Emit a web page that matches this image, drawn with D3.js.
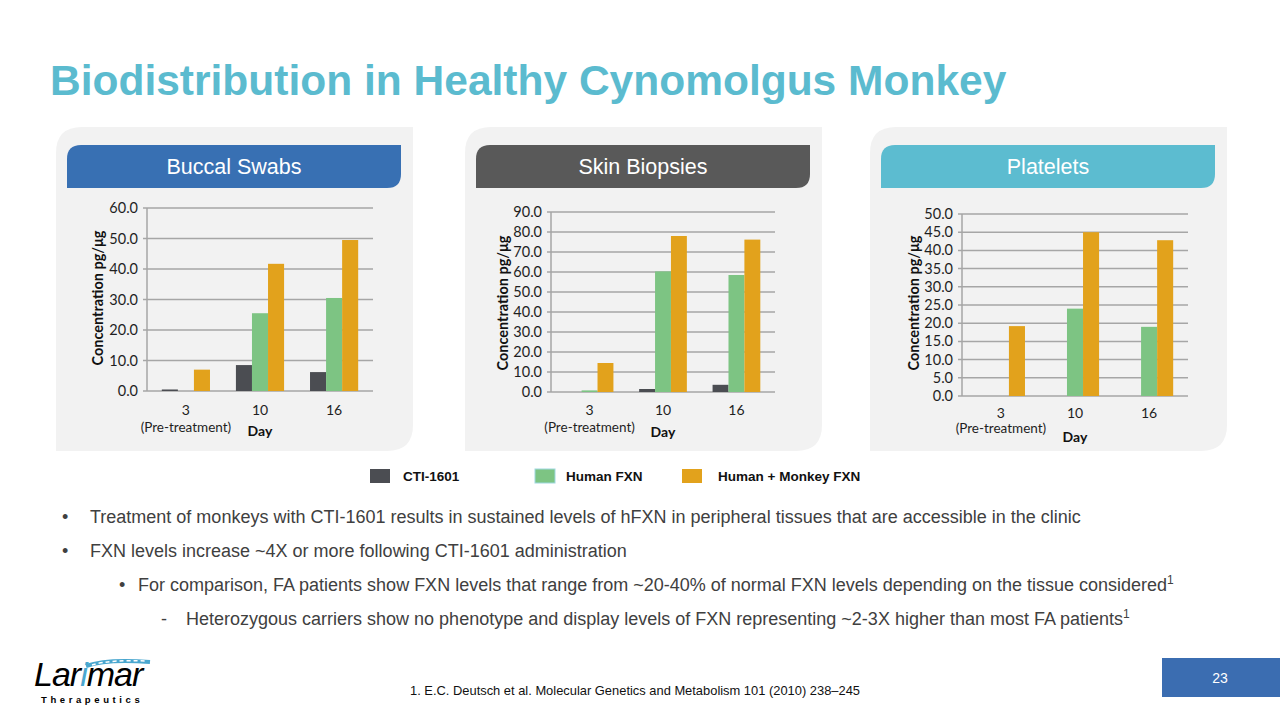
<!DOCTYPE html>
<html>
<head>
<meta charset="utf-8">
<script src="https://cdn.jsdelivr.net/npm/d3@7"></script>
<style>
  body { margin: 0; background: #fff; }
  svg { display: block; }
</style>
</head>
<body>
<svg id="slide" width="1280" height="720"></svg>
<script>
let svg = d3.select('#slide');

// data
let days = ['3', '10', '16'];
let seriesNames = ['CTI-1601', 'Human FXN', 'Human + Monkey FXN'];
let seriesColors = ['#4b4d52', '#7dc483', '#e2a21c'];

let buccalCti = [0.5, 8.5, 6.2];
let buccalHuman = [0, 25.5, 30.5];
let buccalTotal = [7.0, 41.7, 49.5];
let buccalTicks = [0, 10, 20, 30, 40, 50, 60];

let skinCti = [0, 1.5, 3.6];
let skinHuman = [0.8, 60.3, 58.5];
let skinTotal = [14.5, 78.0, 76.2];
let skinTicks = [0, 10, 20, 30, 40, 50, 60, 70, 80, 90];

let plateletCti = [0, 0, 0];
let plateletHuman = [0, 24.0, 19.0];
let plateletTotal = [19.2, 45.0, 42.8];
let plateletTicks = [0, 5, 10, 15, 20, 25, 30, 35, 40, 45, 50];

let bullets = [
  {level: 0, text: 'Treatment of monkeys with CTI-1601 results in sustained levels of hFXN in peripheral tissues that are accessible in the clinic', sup: ''},
  {level: 0, text: 'FXN levels increase ~4X or more following CTI-1601 administration', sup: ''},
  {level: 1, text: 'For comparison, FA patients show FXN levels that range from ~20-40% of normal FXN levels depending on the tissue considered', sup: '1'},
  {level: 2, text: 'Heterozygous carriers show no phenotype and display levels of FXN representing ~2-3X higher than most FA patients', sup: '1'}
];

let panels = [
  {title: 'Buccal Swabs', color: '#3870b3', x: 56, plot: [147, 373, 208, 391], yMax: 60, ticks: buccalTicks,
   values: [buccalCti, buccalHuman, buccalTotal], labelX: 98, labelY: 298, catY: 415, preY: 432, dayY: 436},
  {title: 'Skin Biopsies', color: '#595959', x: 465, plot: [551, 775, 212, 392], yMax: 90, ticks: skinTicks,
   values: [skinCti, skinHuman, skinTotal], labelX: 503, labelY: 303, catY: 415, preY: 432, dayY: 437},
  {title: 'Platelets', color: '#5cbcd0', x: 870, plot: [962, 1188, 214, 396], yMax: 50, ticks: plateletTicks,
   values: [plateletCti, plateletHuman, plateletTotal], labelX: 914, labelY: 303, catY: 418, preY: 433, dayY: 442}
];

// title
svg.append('text')
   .attr('x', 50).attr('y', 95)
   .style('font-family', 'Liberation Sans, Arial, sans-serif')
   .style('font-weight', 'bold')
   .style('font-size', '42.5px')
   .style('fill', '#5bbbcf')
   .text('Biodistribution in Healthy Cynomolgus Monkey');

// shape with rounded top-left and bottom-right corners
function leafPath(x, y, w, h, r) {
  return `M${x},${y + r} Q${x},${y} ${x + r},${y} L${x + w},${y} L${x + w},${y + h - r}` +
         ` Q${x + w},${y + h} ${x + w - r},${y + h} L${x},${y + h} Z`;
}

panels.forEach(p => {
  let g = svg.append('g');

  g.append('path')
   .attr('d', leafPath(p.x, 127, 357, 324, 26))
   .style('fill', '#f2f2f2');

  g.append('path')
   .attr('d', leafPath(p.x + 11, 145, 334, 43, 14))
   .style('fill', p.color);

  g.append('text')
   .attr('x', p.x + 11 + 167).attr('y', 174)
   .attr('text-anchor', 'middle')
   .style('font-family', 'Liberation Sans, Arial, sans-serif')
   .style('font-size', '21.5px')
   .style('fill', '#fff')
   .text(p.title);

  let [left, right, top, bottom] = p.plot;

  let x = d3.scaleBand().domain(days).range([left, right])
            .paddingInner(0.35).paddingOuter(0.2);
  let xs = d3.scaleBand().domain(d3.range(seriesNames.length)).range([0, x.bandwidth()]);
  let y = d3.scaleLinear().domain([0, p.yMax]).range([bottom, top]);

  // gridlines
  g.selectAll('.grid')
   .data(p.ticks)
   .join('line')
   .attr('x1', left - 4).attr('x2', right)
   .attr('y1', d => y(d)).attr('y2', d => y(d))
   .style('stroke', '#a6a6a6')
   .style('stroke-width', 1.5);

  g.append('line')
   .attr('x1', left).attr('x2', left)
   .attr('y1', top).attr('y2', bottom)
   .style('stroke', '#a6a6a6')
   .style('stroke-width', 1.5);

  g.selectAll('.tick-label')
   .data(p.ticks)
   .join('text')
   .attr('x', left - 9).attr('y', d => y(d) + 5)
   .attr('text-anchor', 'end')
   .style('font-family', 'Lato, sans-serif')
   .style('font-size', '14.5px')
   .style('fill', '#1f1f1f')
   .text(d => d.toFixed(1));

  // bars
  p.values.forEach((vals, si) => {
    g.selectAll('.bar-' + si)
     .data(days.map((d, i) => ({day: d, v: vals[i]})))
     .join('rect')
     .attr('x', d => x(d.day) + xs(si))
     .attr('width', xs.bandwidth())
     .attr('y', d => y(d.v))
     .attr('height', d => y(0) - y(d.v))
     .style('fill', seriesColors[si]);
  });

  g.selectAll('.cat')
   .data(days)
   .join('text')
   .attr('x', d => x(d) + x.bandwidth() / 2)
   .attr('y', p.catY)
   .attr('text-anchor', 'middle')
   .style('font-family', 'Lato, sans-serif')
   .style('font-size', '14px')
   .style('fill', '#1f1f1f')
   .text(d => d);

  g.append('text')
   .attr('x', x(days[0]) + x.bandwidth() / 2).attr('y', p.preY)
   .attr('text-anchor', 'middle')
   .style('font-family', 'Lato, sans-serif')
   .style('font-size', '13.5px')
   .style('fill', '#1f1f1f')
   .text('(Pre-treatment)');

  g.append('text')
   .attr('x', x(days[1]) + x.bandwidth() / 2).attr('y', p.dayY)
   .attr('text-anchor', 'middle')
   .style('font-family', 'Lato, sans-serif')
   .style('font-weight', 'bold')
   .style('font-size', '14px')
   .style('fill', '#111')
   .text('Day');

  g.append('text')
   .attr('transform', `translate(${p.labelX},${p.labelY}) rotate(-90)`)
   .attr('text-anchor', 'middle')
   .attr('dy', '0.35em')
   .style('font-family', 'Lato, sans-serif')
   .style('font-weight', 'bold')
   .style('font-size', '14.5px')
   .style('fill', '#111')
   .text('Concentration pg/μg');
});

// legend
let legendX = [370, 535, 682];
let legend = svg.selectAll('.legend')
   .data(seriesNames)
   .join('g')
   .attr('transform', (d, i) => `translate(${legendX[i]},469)`);

legend.append('rect')
   .attr('width', 20).attr('height', 14)
   .style('fill', (d, i) => seriesColors[i])
   .style('stroke', (d, i) => i === 1 ? '#9fd8e0' : 'none')
   .style('stroke-width', 1);

legend.append('text')
   .attr('x', (d, i) => [33, 31, 36][i]).attr('y', 12)
   .style('font-family', 'Liberation Sans, Arial, sans-serif')
   .style('font-weight', 'bold')
   .style('font-size', '13.5px')
   .style('fill', '#111')
   .text(d => d);

// bullets
let markX = [62, 119, 161];
let textX = [90, 138, 186];
let markChar = ['•', '•', '-'];
bullets.forEach((b, i) => {
  let yy = 523 + i * 34;
  svg.append('text')
     .attr('x', markX[b.level]).attr('y', yy)
     .style('font-family', 'Liberation Sans, Arial, sans-serif')
     .style('font-size', '18px')
     .style('fill', '#404040')
     .text(markChar[b.level]);
  let t = svg.append('text')
     .attr('x', textX[b.level]).attr('y', yy)
     .style('font-family', 'Liberation Sans, Arial, sans-serif')
     .style('font-size', '18px')
     .style('fill', '#404040')
     .text(b.text);
  if (b.sup) {
    t.append('tspan')
     .attr('dy', -7)
     .style('font-size', '12px')
     .text(b.sup);
  }
});

// footnote
svg.append('text')
   .attr('x', 410).attr('y', 695)
   .style('font-family', 'Liberation Sans, Arial, sans-serif')
   .style('font-size', '12.9px')
   .style('fill', '#111')
   .text('1. E.C. Deutsch et al. Molecular Genetics and Metabolism 101 (2010) 238–245');

// page number
svg.append('rect')
   .attr('x', 1162).attr('y', 658).attr('width', 118).attr('height', 39)
   .style('fill', '#3b6db1');
svg.append('text')
   .attr('x', 1220).attr('y', 683)
   .attr('text-anchor', 'middle')
   .style('font-family', 'Liberation Sans, Arial, sans-serif')
   .style('font-size', '14px')
   .style('fill', '#fff')
   .text('23');

// logo
let logo = svg.append('g');
logo.append('path')
   .attr('d', 'M86,666 C100,661 125,660 150,662')
   .style('fill', 'none')
   .style('stroke', '#4aa7cf')
   .style('stroke-width', 4);
logo.append('path')
   .attr('d', 'M92,665 C105,661 125,660 146,661')
   .style('fill', 'none')
   .style('stroke', '#fff')
   .style('stroke-width', 1.5)
   .style('stroke-dasharray', '4 3');
let lt = logo.append('text')
   .attr('x', 34).attr('y', 686)
   .style('font-family', 'Liberation Sans, Arial, sans-serif')
   .style('font-style', 'italic')
   .style('font-size', '34px')
   .style('letter-spacing', '-1px')
   .style('fill', '#000');
lt.append('tspan').text('Lar');
lt.append('tspan').style('fill', '#4aa7cf').text('i');
lt.append('tspan').text('mar');
logo.append('text')
   .attr('x', 41).attr('y', 703)
   .style('font-family', 'Liberation Sans, Arial, sans-serif')
   .style('font-weight', 'bold')
   .style('font-size', '9.5px')
   .style('letter-spacing', '3.6px')
   .style('fill', '#000')
   .text('Therapeutics');
</script>
</body>
</html>
